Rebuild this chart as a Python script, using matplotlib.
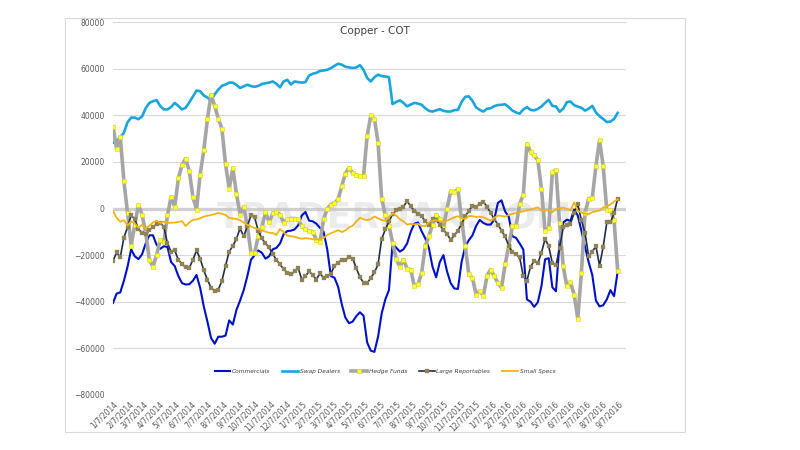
import matplotlib
matplotlib.use("Agg")
import matplotlib.pyplot as plt
from matplotlib.patches import Rectangle
import numpy as np
import pandas as pd

# Weekly COT report dates (Tuesdays)
dates = pd.date_range("2014-01-07", periods=140, freq="7D")

commercials = [
    -40.5, -36.5, -36, -31, -25, -17.5, -20.5, -21.7, -19.7, -15,
    -11.5, -11.5, -15.5, -17.3, -16.2, -16.5, -23, -24.7, -29, -32,
    -32.6, -32.5, -31, -28.5, -34, -42, -48.5, -55.5, -58, -55,
    -55, -54.5, -48, -49.8, -43.5, -39.5, -35, -29, -22, -20,
    -18, -19, -21.5, -20.5, -17.5, -16.9, -15, -11, -9.7, -9.5,
    -9, -7.2, -3, -1.5, -5.2, -5.5, -6.5, -8.3, -10, -17.5,
    -29, -29.7, -33.6, -41, -46.8, -49.2, -48.5, -46.2, -44.5, -46,
    -57.5, -61, -61.5, -55, -45, -39, -35, -15, -16.8, -18.5,
    -17.5, -15, -10, -6.5, -6, -9.8, -12.8, -17, -25, -29.5,
    -23, -20, -27, -32, -34.3, -34.5, -23, -16.3, -13.6, -11.5,
    -7.5, -4.9, -6.2, -6.9, -6.9, -4.7, 2.4, 3.5, -1.3, -3.5,
    -11.9, -12.6, -15, -17.6, -39, -40, -42.2, -40.2, -33.3, -21.8,
    -21.3, -33.8, -35.5, -14, -6, -4.8, -5.3, -0.5, -3, -9.5,
    -16.5, -23, -28.5, -39.5, -42, -41.5, -39, -35, -37.6, -26.9,
]

swap_dealers = [
    28.2, 29, 30.5, 32.5, 37, 39, 39, 38.3, 39.5, 43,
    45.3, 46, 46.5, 44, 42.5, 42.5, 43.5, 45.3, 44, 42.5,
    43.2, 45.5, 48, 50.6, 50.3, 48.5, 47.6, 46.3, 49, 51,
    52.6, 53.2, 54, 54, 53, 51.7, 52.4, 53.1, 52.5, 52.2,
    52.6, 53.4, 53.7, 54, 54.5, 53.5, 52, 54.5, 55.2, 53.2,
    54.5, 54.2, 54, 54.2, 57, 57.8, 58.2, 59, 59.2, 59.5,
    60.2, 61.2, 62.1, 61.7, 60.8, 60.5, 60.3, 60.5, 61.5, 59.5,
    56, 54.5, 56.3, 57.4, 56.8, 56.6, 56.3, 44.8, 45.7, 46.4,
    45.3, 43.8, 44.6, 45.3, 45, 44.5, 43, 41.9, 41.6, 42.1,
    42.6, 41.9, 41.6, 41.6, 42.2, 42.3, 45.7, 47.9, 48.1, 46.2,
    43.4, 42.3, 41.6, 42.8, 43, 43.9, 44.4, 44.5, 44.7, 43.5,
    42, 41.2, 40.7, 42.5, 43.5, 42.3, 42.1, 42.7, 43.8, 45.3,
    46.6, 44, 43.8, 41.5, 42.8, 45.6, 45.9, 44.3, 43.7, 43.2,
    42, 42.8, 44, 41.2, 39.6, 38.4, 37.1, 37.3, 38.4, 41,
]

hedge_funds = [
    35.1, 25.6, 30.7, 12, -2, -15.9, -7, 1.5, -2.6, -10.4,
    -21.9, -25, -20, -13.6, -14.5, -3, 5, 0.7, 12.9, 18.6,
    21.4, 16.2, 5, -0.5, 14.5, 24.9, 38.2, 48.9, 44, 38.6,
    34.2, 18.9, 8.5, 17.3, 6.4, -2.6, 0.7, -7.6, -19, -19,
    -12, -8, -1.6, -6, -1.9, -1.6, -2.6, -6.1, -4.7, -4.3,
    -4.3, -4.7, -7.6, -9, -9.5, -10, -13.3, -14.5, -4.7, -0.1,
    1.7, 2.4, 3.9, 9.6, 15, 17.5, 15.3, 14.2, 13.9, 13.9,
    31.3, 39.9, 38.5, 28.2, 4.2, -3, -7.3, -14.7, -21.6, -25,
    -21.9, -25.9, -26.2, -33.4, -32.6, -27.6, -16.2, -11.9, -6.9, -2.6,
    -4.7, -8.3, 0, 7.4, 7, 8.2, -4.7, -16.2, -28.3, -29.8,
    -36.9, -35.5, -37.4, -29, -26.2, -29, -31.9, -34, -24, -16,
    -7.6, -7.6, 2, 6, 27.8, 24.2, 22.8, 20.7, 8.5, -9.7,
    -8.3, 15.6, 16.4, -6.4, -24.8, -33.4, -31.6, -36.9, -47.2, -27.6,
    -1.9, 4.2, 4.6, 18.2, 29.3, 18.2, -0.7, -0.7, -5, -26.9,
]

large_reportables = [
    -22.6, -18.8, -20.9, -12.5, -8, -3, -4.5, -9, -10.3, -11,
    -9.3, -7.8, -6.8, -6.2, -7.8, -15, -18.5, -18, -22, -23.8,
    -25.2, -25.5, -22, -18, -21.5, -26.5, -30.5, -34, -35.3, -34.8,
    -31, -24.5, -18.5, -16, -13, -8.5, -12, -7.5, -3, -3.8,
    -9.5, -12.8, -15, -16.7, -19.5, -22, -24, -26, -27.5, -28.2,
    -27, -25.5, -30.5, -29, -27, -28.5, -30.5, -27.8, -29.8, -29,
    -28, -24.6, -23.2, -22, -22.2, -20.6, -21.5, -25.5, -29.5, -31.8,
    -32, -29.8, -27.4, -24, -13, -9, -5.5, -2.5, -0.8, -0.2,
    0.8, 3.2, 0.9, -0.9, -2.3, -3.3, -5.5, -7, -4.5, -5,
    -6.9, -9.4, -10.8, -13.5, -11.5, -9.5, -6.6, -3.4, -1, 1.2,
    0.7, 2, 3, 0.7, -1.8, -4.5, -6.9, -9.5, -12, -16,
    -18.8, -19.6, -21, -29, -30.9, -25, -22.5, -23.5, -19, -13,
    -16.2, -23.5, -24.3, -17, -8, -7.2, -6.5, -2, 1.8, -5,
    -10.5, -20.5, -18.5, -16.2, -24.5, -16.5, -6, -6, -2, 4.2,
]

small_specs = [
    -1.1, -4, -5.7, -5, -7.3, -5.5, -6.4, -8.2, -7, -8.5,
    -7.4, -6, -5.2, -6.2, -5.6, -6.2, -6.1, -6, -5.8, -5.4,
    -7.5, -6, -4.9, -4.7, -4.2, -3.5, -3.1, -2.8, -2.4, -1.9,
    -2.2, -2.8, -4, -4.3, -4.5, -5, -6, -7, -7.7, -8.4,
    -8.9, -9.4, -9.9, -10.4, -10.5, -11.4, -8.8, -10.2, -11.6, -11.9,
    -12.1, -12.6, -13, -12.7, -12.9, -13.2, -13.3, -13.2, -12.7, -11.4,
    -10.6, -10, -9.3, -10.1, -9.4, -8.1, -7.4, -5.6, -4, -4.6,
    -5, -4.5, -3.4, -4.2, -5, -5.2, -3.6, -2, -3, -4.6,
    -5.5, -6.9, -6.6, -6.8, -6.6, -7.5, -7.5, -6, -5.2, -5,
    -5.5, -5.8, -5.2, -4.5, -3.8, -3.3, -4.2, -4.5, -3.2, -3.3,
    -3.6, -3.5, -3.8, -4.5, -5.2, -4, -3, -3.2, -3.5, -2.8,
    -2.3, -1.9, -1.6, -1.2, -0.8, -0.4, 0, 0.5, -0.9, -0.9,
    -0.5, -1.6, -0.3, 0.1, 0.4, -0.2, -0.8, 2.7, -1, -1.7,
    -2.2, -2.4, -1.6, -1.2, -0.9, 0.4, 1.1, 1.7, 3, 3.9,
]

series_names = ["Commercials", "Swap Dealers", "Hedge Funds",
                "Large Reportables", "Small Specs"]
title_text = "Copper - COT"
watermark_text = "TRADERDAK.COM"

W, H = 800, 450
fig = plt.figure(figsize=(8, 4.5), dpi=100)
fig.patch.set_facecolor("white")

# chart frame
fig.patches.append(Rectangle((65 / W, 1 - 432 / H), 620 / W, 414 / H,
                             transform=fig.transFigure, fill=False,
                             edgecolor="#D9D9D9", linewidth=0.8))

ax = fig.add_axes([113 / W, 1 - 395 / H, (626 - 113) / W, 373 / H])
ax.set_facecolor("white")

k = 1000.0
def scale(v):
    return np.array(v) * k

ax.plot(dates, scale(commercials), color="#0010C8", lw=1.5, zorder=3,
        label=series_names[0])
ax.plot(dates, scale(swap_dealers), color="#1AA5DC", lw=1.9, zorder=3.1,
        label=series_names[1])
ax.plot(dates, scale(hedge_funds), color="#A6A6A6", lw=2.6, zorder=3.2,
        marker="s", markersize=3.0, markerfacecolor="#FFFF33",
        markeredgecolor="#D8D820", markeredgewidth=0.4,
        label=series_names[2])
ax.plot(dates, scale(large_reportables), color="#1F2D4E", lw=1.2, zorder=3.3,
        marker="s", markersize=2.5, markerfacecolor="#8F8255",
        markeredgecolor="#8F8255", markeredgewidth=0.2,
        label=series_names[3])
ax.plot(dates, scale(small_specs), color="#F0B418", lw=1.3, zorder=3.4,
        label=series_names[4])

# axes styling
ax.set_ylim(-80000, 80000)
ax.set_yticks(np.arange(-80000, 80001, 20000))
ax.yaxis.grid(True, color="#D9D9D9", lw=0.8)
ax.set_axisbelow(True)
ax.axhline(0, color="#D0D0D0", lw=2.4, zorder=1.2)
for s in ax.spines.values():
    s.set_visible(False)

start = dates[0]
ax.set_xlim(start, start + pd.Timedelta(days=989))
ticks = pd.date_range("2014-01-01", "2016-09-01", freq="MS") + pd.Timedelta(days=6)
ax.set_xticks(ticks)
ax.set_xticklabels([f"{d.month}/{d.day}/{d.year}" for d in ticks],
                   rotation=45, ha="right", rotation_mode="anchor",
                   fontsize=5.5, color="#595959")
ax.tick_params(axis="both", length=0, pad=3)
ax.tick_params(axis="y", labelsize=5.5, labelcolor="#595959", pad=6)

ax.text(0.51, 0.975, title_text, transform=ax.transAxes, ha="center",
        va="center", fontsize=7.5, color="#404040")

ax.text(0.55, 0.475, watermark_text, transform=ax.transAxes, ha="center",
        va="center", fontsize=26, fontweight="bold", color="#C0C0C0",
        alpha=0.3, zorder=1.5)

leg = ax.legend(loc="center", bbox_to_anchor=(0.53, 0.062), ncol=5,
                frameon=False, fontsize=4.2, handlelength=2.7,
                columnspacing=2.0, handletextpad=0.3)
for t in leg.get_texts():
    t.set_fontstyle("italic")
    t.set_color("#404040")

fig.savefig("out.png", dpi=100, facecolor="white")
